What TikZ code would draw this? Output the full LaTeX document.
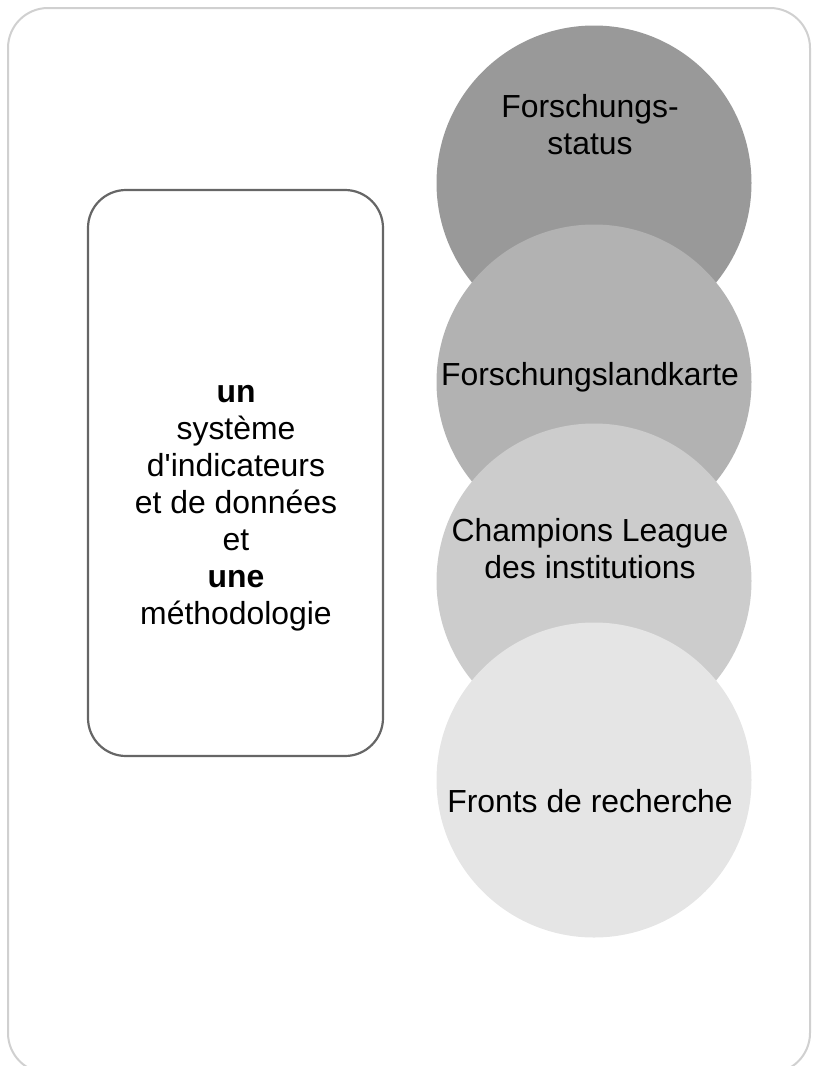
\documentclass[tikz,border=0pt]{standalone}
\usepackage{fontspec}
\setmainfont{Liberation Sans}
\usepackage{xcolor}
\usepackage{tikz}
\usetikzlibrary{positioning}
\definecolor{frameline}{HTML}{D0D0D0}
\definecolor{boxline}  {HTML}{666666}
\definecolor{discA}    {HTML}{999999}
\definecolor{discB}    {HTML}{B2B2B2}
\definecolor{discC}    {HTML}{CCCCCC}
\definecolor{discD}    {HTML}{E5E5E5}

\begin{document}
\begin{tikzpicture}[x=1pt,y=-1pt,
    disc/.style={circle, minimum size=315pt, inner sep=0pt},
    txt/.style={font=\fontsize{31.9}{37}\selectfont, align=center, inner sep=0pt}]
  \useasboundingbox (0,0) rectangle (818,1066);
  \clip (0,0) rectangle (818,1066);
  \draw[frameline, line width=2pt, rounded corners=40pt] (8,8) rectangle (810,1073);
  % left box
  \draw[boxline, line width=2.2pt, rounded corners=38pt] (88,190) rectangle (383,756);
  \node[txt] (method) at (236,508)
    {\textbf{un}\\ système\\ d\textquotesingle indicateurs\\ et de données\\ et\\ \textbf{une}\\ méthodologie};
  % four discs, each one drawn over the one above it
  \foreach \n/\y/\c in {status/183/discA, map/382/discB, league/581/discC, fronts/780/discD}
    \node[disc, fill=\c] (\n) at (594,\y) {};
  \node[txt] (statustext) at (590,125) {Forschungs-\\status};
  \node[txt, anchor=base] (maptext) at (590,385) {Forschungslandkarte};
  \node[txt] (leaguetext) at (590,549) {Champions League\\des institutions};
  \node[txt, anchor=base] (frontstext) at (590,812) {Fronts de recherche};
\end{tikzpicture}
\end{document}
